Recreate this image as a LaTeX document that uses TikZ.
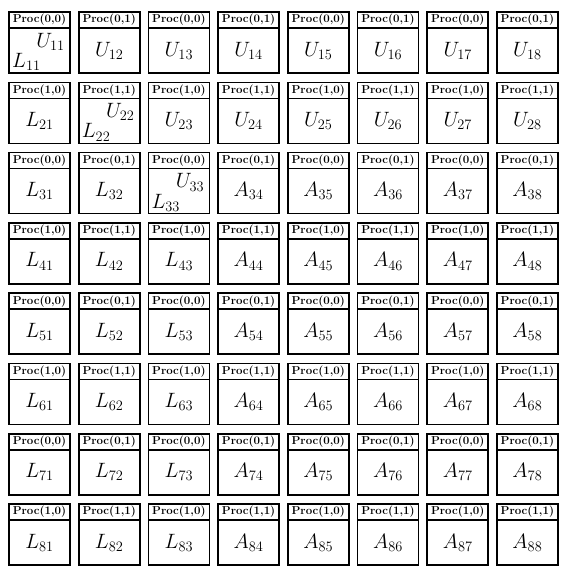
\documentclass[tikz,border=0pt]{standalone}
\usetikzlibrary{positioning}
\tikzset{
  prochead/.style={draw, line width=1.6pt, outer sep=0pt, inner sep=0pt,
    minimum width=61pt, minimum height=16pt,
    font=\bfseries\fontsize{11.5}{12}\selectfont},
  blockbody/.style={draw, line width=1.6pt, outer sep=0pt, inner sep=0pt,
    minimum width=61pt, minimum height=45pt},
  blocklabel/.style={inner sep=0pt, font=\fontsize{21}{24}\selectfont},
}
\begin{document}
\begin{tikzpicture}[x=1pt,y=-1pt]
\useasboundingbox (0,0) rectangle (569,576);
\foreach \i in {1,...,8}{
  \foreach \j in {1,...,8}{
    \pgfmathtruncatemacro{\pr}{mod(\i-1,2)}
    \pgfmathtruncatemacro{\pc}{mod(\j-1,2)}
    \pgfmathtruncatemacro{\kind}{(\i==\j && \i<4) ? 3 : ((\j>\i && \i<3) ? 1 : ((\j<\i && \j<4) ? 2 : 0))}
    \node[prochead] (h\i\j) at ({39.5+(\j-1)*69.7},{20+(\i-1)*70.3}) {Proc(\pr,\pc)};
    \node[blockbody, below=0pt of h\i\j] (b\i\j) {};
    \ifcase\kind
      \node[blocklabel] (a\i\j) at (b\i\j) {$A_{\i\j}$};
    \or
      \node[blocklabel] (u\i\j) at (b\i\j) {$U_{\i\j}$};
    \or
      \node[blocklabel] (l\i\j) at (b\i\j) {$L_{\i\j}$};
    \or
      \node[blocklabel, anchor=north east] (u\i\j) at ([shift={(-5,5)}]b\i\j.north east) {$U_{\i\j}$};
      \node[blocklabel, anchor=south west] (l\i\j) at ([shift={(3,-2)}]b\i\j.south west) {$L_{\i\j}$};
    \fi
  }
}
\end{tikzpicture}
\end{document}
